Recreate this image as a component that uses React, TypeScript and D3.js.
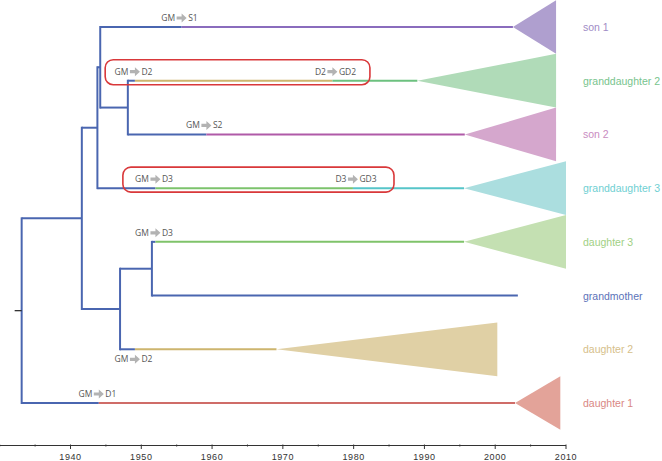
import React from "react";
import * as d3 from "d3";

// ---- data ----
const leafNames = ["son 1", "granddaughter 2", "son 2", "granddaughter 3", "daughter 3", "grandmother", "daughter 2", "daughter 1"];
const leafParents = ["E", "F", "F", "B", "D", "D", "C", "root"];
const nodeNames = ["root", "A", "B", "E", "F", "C", "D"];
const nodeParents = [null, "root", "A", "B", "E", "A", "C"];
const nodeYears = [1933.1, 1941.6, 1943.8, 1944.2, 1948.1, 1947.0, 1951.5];
const nodeChildren: Record<string, string[]> = {
  root: ["A", "daughter 1"],
  A: ["B", "C"],
  B: ["E", "granddaughter 3"],
  E: ["son 1", "F"],
  F: ["granddaughter 2", "son 2"],
  C: ["D", "daughter 2"],
  D: ["daughter 3", "grandmother"],
};
// colour change years along each leaf branch (blue -> mid -> end)
const leafSegYears = [
  [1955.7],
  [1949.1, 1977.0],
  [1959.2],
  [1952.0, 1979.9],
  [1952.0],
  [],
  [1949.1],
  [1944.0],
];
const leafSegColors = [
  ["#4a66b0", "#8a6cbd"],
  ["#4a66b0", "#cdb56e", "#6cc17f"],
  ["#4a66b0", "#b05aa8"],
  ["#4a66b0", "#7cc36c", "#56c5c9"],
  ["#4a66b0", "#7fc36a"],
  ["#4a66b0"],
  ["#4a66b0", "#cdb56e"],
  ["#4a66b0", "#cf6c68"],
];
const cladeStart = [2002.5, 1989.0, 1995.7, 1995.6, 1995.6, 2003.2, 1969.1, 2002.8];
const cladeEnd = [2008.6, 2008.6, 2008.6, 2010.0, 2010.0, null, 2000.3, 2009.2];
const cladeFill = ["#af9fcf", "#b0dbb8", "#d5a7cd", "#abdedf", "#c4e0b2", null, "#e0d0a5", "#e3a399"];
const labelColors = ["#9f8cc6", "#77c48d", "#c98cbf", "#6fcfd2", "#9fd084", "#5b72b8", "#d6c08a", "#d98783"];

// transfer annotations
const annFrom = ["GM", "GM", "D2", "GM", "GM", "D3", "GM", "GM", "GM"];
const annTo = ["S1", "D2", "GD2", "S2", "D3", "GD3", "D3", "D2", "D1"];
const annYear = [1955.7, 1949.1, 1977.0, 1959.2, 1952.0, 1979.9, 1952.0, 1949.1, 1944.0];
const annLeaf = [0, 1, 1, 2, 3, 3, 4, 6, 7];
const annBelow = [false, false, false, false, false, false, false, true, false];

// highlighted boxes
const boxStart = [1944.9, 1947.4];
const boxEnd = [1982.3, 1985.7];
const boxLeaf = [1, 3];

const tickYears = d3.range(1930, 2011, 5);
const labelYears = [1940, 1950, 1960, 1970, 1980, 1990, 2000, 2010];

export default function App() {
  const W = 662, H = 461;
  const x = d3.scaleLinear().domain([1940, 2010]).range([70.5, 566]);
  const y = d3.scaleLinear().domain([0, 7]).range([27, 403]);
  const axisY = 445.5;
  const blue = "#4a66b0";

  const leafY: Record<string, number> = {};
  leafNames.forEach((n, i) => (leafY[n] = y(i)));
  const nodeY: Record<string, number> = {};
  const getY = (n: string): number => {
    if (n in leafY) return leafY[n];
    if (n in nodeY) return nodeY[n];
    const ch = nodeChildren[n];
    const v = d3.mean(ch.map(getY)) as number;
    nodeY[n] = v;
    return v;
  };
  nodeNames.forEach(getY);
  const nodeYear: Record<string, number> = {};
  nodeNames.forEach((n, i) => (nodeYear[n] = nodeYears[i]));

  const elems: React.ReactNode[] = [];
  nodeNames.forEach((n, i) => {
    const ch = nodeChildren[n];
    const ys = ch.map(getY);
    elems.push(
      <line key={"v" + n} x1={x(nodeYear[n])} x2={x(nodeYear[n])} y1={d3.min(ys)! - 1} y2={d3.max(ys)! + 1} stroke={blue} strokeWidth={2} />
    );
    const p = nodeParents[i];
    if (p) {
      elems.push(
        <line key={"h" + n} x1={x(nodeYear[p])} x2={x(nodeYear[n])} y1={getY(n)} y2={getY(n)} stroke={blue} strokeWidth={2} />
      );
    }
  });
  elems.push(<line key="stub" x1={x(nodeYear.root) - 7} x2={x(nodeYear.root)} y1={getY("root")} y2={getY("root")} stroke="#222" strokeWidth={1.2} />);

  leafNames.forEach((n, i) => {
    if (cladeEnd[i] == null) return;
    const x0 = x(cladeStart[i]), x1 = x(cladeEnd[i] as number);
    const yc = y(i), yt = y(i - 0.5), yb = y(i + 0.5);
    elems.push(<path key={"c" + i} d={`M${x0},${yc}L${x1},${yt}L${x1},${yb}Z`} fill={cladeFill[i] as string} />);
  });

  leafNames.forEach((n, i) => {
    const yy = y(i);
    const pts = [nodeYear[leafParents[i]], ...leafSegYears[i], cladeStart[i]];
    for (let k = 0; k < pts.length - 1; k++) {
      elems.push(
        <line key={"l" + i + "_" + k} x1={x(pts[k])} x2={x(pts[k + 1])} y1={yy} y2={yy} stroke={leafSegColors[i][k]} strokeWidth={2} />
      );
    }
    elems.push(
      <text key={"t" + i} x={583} y={yy + 4} fill={labelColors[i]} fontSize={10.5} fontFamily="'Liberation Sans', Arial, sans-serif">
        {n}
      </text>
    );
  });

  boxStart.forEach((s, i) => {
    const yy = y(boxLeaf[i]);
    elems.push(
      <rect key={"b" + i} x={x(s)} y={yy - 21} width={x(boxEnd[i]) - x(s)} height={25} rx={8} ry={8} fill="none" stroke="#d9383a" strokeWidth={1.6} />
    );
  });

  annFrom.forEach((f, i) => {
    const cx = x(annYear[i]);
    const cy = y(annLeaf[i]) + (annBelow[i] ? 10 : -9);
    const arrow = `M${cx - 5},${cy - 1.6}L${cx},${cy - 1.6}L${cx},${cy - 4.5}L${cx + 5},${cy}L${cx},${cy + 4.5}L${cx},${cy + 1.6}L${cx - 5},${cy + 1.6}Z`;
    elems.push(
      <g key={"a" + i} fontFamily="'Open Sans', 'Liberation Sans', sans-serif" fontSize={8.5} fill="#555">
        <text x={cx - 6.5} y={cy + 3} textAnchor="end">{f}</text>
        <path d={arrow} fill="#b3b3b3" />
        <text x={cx + 6.5} y={cy + 3}>{annTo[i]}</text>
      </g>
    );
  });

  const axis: React.ReactNode[] = [];
  axis.push(<line key="ax" x1={x(1930)} x2={x(2010)} y1={axisY} y2={axisY} stroke="#333" strokeWidth={1.2} />);
  tickYears.forEach((t) => {
    const major = labelYears.includes(t);
    axis.push(<line key={"tk" + t} x1={x(t)} x2={x(t)} y1={axisY - 1} y2={axisY + (major ? 3.5 : 1)} stroke="#333" strokeWidth={1} />);
  });
  labelYears.forEach((t) => {
    axis.push(
      <text key={"tl" + t} x={x(t)} y={459.5} textAnchor="middle" fontSize={9} fill="#333" fontFamily="'Liberation Sans', Arial, sans-serif" letterSpacing={0.6}>
        {t}
      </text>
    );
  });

  return (
    <svg width={W} height={H} style={{ position: "absolute", left: 0, top: 0, background: "#fff" }}>
      {elems}
      {axis}
    </svg>
  );
}
